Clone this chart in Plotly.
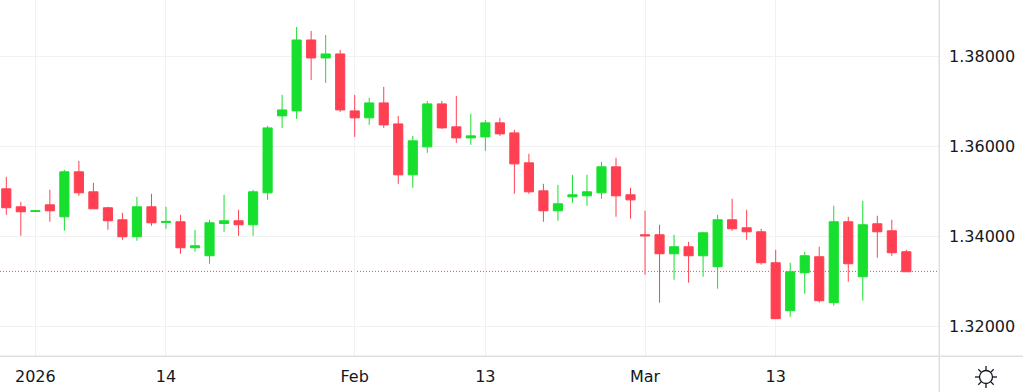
import pandas as pd
import plotly.graph_objects as go

dates = [d.strftime("%Y-%m-%d") for d in pd.bdate_range("2025-12-30", "2026-03-26")]

opens = [1.35052,1.34652,1.34548,1.34696,1.3443,1.3543,1.34985,1.3463,1.34363,1.33985,
         1.34652,1.34304,1.34319,1.33741,1.33563,1.34281,1.34341,1.34252,1.34963,1.36674,
         1.36785,1.38363,1.37963,1.38052,1.36785,1.3663,1.36963,1.36496,1.35363,1.35985,
         1.36941,1.3643,1.36185,1.36207,1.36519,1.36296,1.3563,1.35007,1.34563,1.34874,
         1.34896,1.34963,1.35541,1.34919,1.3403,1.3403,1.33607,1.33763,1.33563,1.33319,
         1.34363,1.34185,1.34096,1.33407,1.32341,1.33185,1.33541,1.32519,1.34319,1.33096,
         1.34274,1.34119,1.33652]
highs = [1.35319,1.34763,1.34563,1.3503,1.35474,1.35674,1.35185,1.34652,1.34519,1.34874,
         1.34941,1.34652,1.34474,1.34141,1.34363,1.34919,1.34585,1.3503,1.36452,1.37141,
         1.38652,1.38563,1.38474,1.38141,1.37141,1.37074,1.37319,1.36674,1.3623,1.37007,
         1.37007,1.37119,1.36719,1.36585,1.3663,1.36363,1.3583,1.35163,1.35141,1.35363,
         1.35363,1.35652,1.35741,1.35074,1.34563,1.34252,1.3403,1.33874,1.34096,1.34474,
         1.3483,1.34585,1.34163,1.33696,1.33407,1.33652,1.33763,1.34674,1.3443,1.34785,
         1.34452,1.34363,1.33696]
lows = [1.34474,1.34007,1.34548,1.34319,1.34119,1.34896,1.34607,1.34141,1.33919,1.33896,
        1.3423,1.34163,1.33607,1.33652,1.33385,1.34096,1.34007,1.34007,1.34807,1.36407,
        1.36607,1.37474,1.37407,1.36763,1.36207,1.36474,1.36407,1.35163,1.35074,1.35852,
        1.36385,1.36074,1.3603,1.35896,1.3623,1.34941,1.34941,1.34319,1.34341,1.34741,
        1.34674,1.3483,1.3443,1.34385,1.33141,1.32519,1.3303,1.32963,1.33096,1.3283,
        1.34119,1.33919,1.33363,1.32163,1.32207,1.32719,1.32519,1.32452,1.32985,1.32563,
        1.33519,1.33563,1.33207]
closes = [1.3463,1.34541,1.34563,1.34563,1.3543,1.34963,1.34607,1.34341,1.33985,1.34652,
          1.34296,1.34326,1.33741,1.33785,1.34296,1.34341,1.34252,1.34985,1.36407,1.36807,
          1.38363,1.37963,1.38052,1.36807,1.3663,1.36963,1.36474,1.35363,1.36119,1.36941,
          1.36407,1.36185,1.3623,1.36519,1.36274,1.35607,1.34985,1.34563,1.34719,1.34919,
          1.34985,1.35541,1.34896,1.34807,1.34007,1.33607,1.33763,1.33563,1.34074,1.34363,
          1.34163,1.34096,1.33407,1.32163,1.33207,1.33563,1.32563,1.34319,1.33385,1.34252,
          1.34096,1.3363,1.33207]

x_tick_dates = ["2026-01-01", "2026-01-14", "2026-02-02", "2026-02-13", "2026-03-02", "2026-03-13"]
x_tick_labels = ["2026", "14", "Feb", "13", "Mar", "13"]
y_ticks = [1.32, 1.34, 1.36, 1.38]
last_price = 1.33215

RED = "#FF4053"
GREEN = "#17DF2E"
GRID = "#F0F1F3"
AXIS = "#DDDFE4"
TEXT = "#131722"
FONT = "DejaVu Sans"
PLOT_W, PLOT_H = 939, 356

fig = go.Figure(go.Candlestick(
    x=dates, open=opens, high=highs, low=lows, close=closes,
    increasing=dict(line=dict(color=GREEN, width=1), fillcolor=GREEN),
    decreasing=dict(line=dict(color=RED, width=1), fillcolor=RED),
    whiskerwidth=0, showlegend=False, hoverinfo="skip",
))

shapes = [dict(type="line", xref="paper", x0=0, x1=1, yref="y", y0=last_price, y1=last_price,
               line=dict(color=RED, width=1, dash="1px,2px"), layer="below")]

# settings icon drawn in plot-area paper coordinates (extends beyond the plot)
cx, cy = 986.0, 377.0
def px(x): return x / PLOT_W
def py(y): return 1 - y / PLOT_H
shapes.append(dict(type="circle", xref="paper", yref="paper",
                   x0=px(cx - 6.5), x1=px(cx + 6.5), y0=py(cy + 6.5), y1=py(cy - 6.5),
                   line=dict(color=TEXT, width=1.3)))
for dx, dy in [(0, -1), (0, 1), (1, 0), (-1, 0), (.7, .7), (-.7, .7), (.7, -.7), (-.7, -.7)]:
    shapes.append(dict(type="line", xref="paper", yref="paper",
                       x0=px(cx + dx * 7), x1=px(cx + dx * 11),
                       y0=py(cy + dy * 7), y1=py(cy + dy * 11),
                       line=dict(color=TEXT, width=1.3)))
# axis borders
shapes.append(dict(type="line", xref="paper", yref="paper", x0=0, x1=px(1023),
                   y0=py(356.3), y1=py(356.3), line=dict(color=AXIS, width=1.5)))
shapes.append(dict(type="line", xref="paper", yref="paper", x0=px(939.3), x1=px(939.3),
                   y0=py(0), y1=py(392), line=dict(color=AXIS, width=1.5)))

fig.update_layout(
    width=1023, height=392, autosize=False,
    margin=dict(l=0, r=84, t=0, b=36),
    paper_bgcolor="white", plot_bgcolor="white",
    boxgap=0.1,
    font=dict(family=FONT, color=TEXT, size=16),
    shapes=shapes,
    xaxis=dict(type="category", range=[-0.434, 64.25], rangeslider=dict(visible=False),
               tickmode="array", tickvals=x_tick_dates, ticktext=x_tick_labels,
               showgrid=True, gridcolor=GRID, gridwidth=1, ticks="", ticklen=0,
               ticklabelstandoff=9,
               tickfont=dict(size=16, color=TEXT, family=FONT), zeroline=False),
    yaxis=dict(side="right", range=[1.31333, 1.39252],
               tickmode="array", tickvals=y_ticks, tickformat=".5f",
               showgrid=True, gridcolor=GRID, gridwidth=1, ticks="", zeroline=False,
               ticklabelstandoff=9,
               tickfont=dict(size=16, color=TEXT, family=FONT)),
)

fig.write_html("out.html", config={"displayModeBar": False},
               post_script="document.body.style.margin='0';document.documentElement.style.overflow='hidden';")
